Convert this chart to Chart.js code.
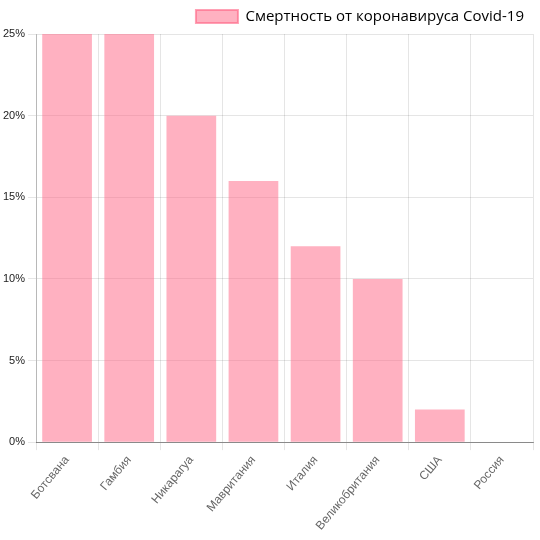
<!DOCTYPE html>
<html>
<head>
<meta charset="utf-8">
<script src="https://cdn.jsdelivr.net/npm/chart.js@4/dist/chart.umd.min.js"></script>
<style>
  html, body { margin: 0; padding: 0; background: #fff; }
  #wrap { width: 540px; height: 540px; position: relative; }
</style>
</head>
<body>
<div id="wrap"><canvas id="deathChart"></canvas></div>
<script>
const countries = ['Ботсвана', 'Гамбия', 'Никарагуа', 'Мавритания', 'Италия', 'Великобритания', 'США', 'Россия'];
const deathRates = [30, 28, 20, 16, 12, 10, 2, 0];
const seriesLabel = 'Смертность от коронавируса Covid-19';

const pinkFill = 'rgba(255, 99, 132, 0.5)';
const pinkBorder = 'rgba(255, 99, 132, 0.6)';

const ctx = document.getElementById('deathChart');
new Chart(ctx, {
    type: 'bar',
    data: {
        labels: countries,
        datasets: [{
            label: seriesLabel,
            data: deathRates,
            backgroundColor: pinkFill,
            borderWidth: 0,
            barPercentage: 0.8,
            categoryPercentage: 1.0
        }]
    },
    options: {
        responsive: true,
        maintainAspectRatio: false,
        animation: false,
        layout: { padding: { left: 0, right: 7, top: 0, bottom: 4 } },
        plugins: {
            legend: {
                align: 'end',
                labels: {
                    boxWidth: 42,
                    boxHeight: 13,
                    padding: 9,
                    color: '#333',
                    font: { family: 'Open Sans', size: 15 },
                    // legend swatch keeps a border although bars have none
                    generateLabels: chart => chart.data.datasets.map((ds, i) => ({
                        text: ds.label,
                        fillStyle: pinkFill,
                        strokeStyle: pinkBorder,
                        lineWidth: 2,
                        hidden: !chart.isDatasetVisible(i),
                        datasetIndex: i
                    }))
                }
            },
            tooltip: { enabled: false }
        },
        scales: {
            x: {
                grid: { color: 'rgba(0,0,0,0.1)', offset: true },
                border: { color: 'rgba(0,0,0,0.4)' },
                ticks: {
                    color: '#666',
                    font: { family: 'Liberation Sans', size: 12 },
                    maxRotation: 50,
                    minRotation: 50
                }
            },
            y: {
                min: 0,
                max: 25,
                grid: { color: 'rgba(0,0,0,0.1)' },
                border: { color: 'rgba(0,0,0,0.2)' },
                ticks: {
                    stepSize: 5,
                    color: '#222',
                    font: { family: 'Liberation Sans', size: 11 },
                    callback: v => v + '%'
                }
            }
        }
    }
});
</script>
</body>
</html>
